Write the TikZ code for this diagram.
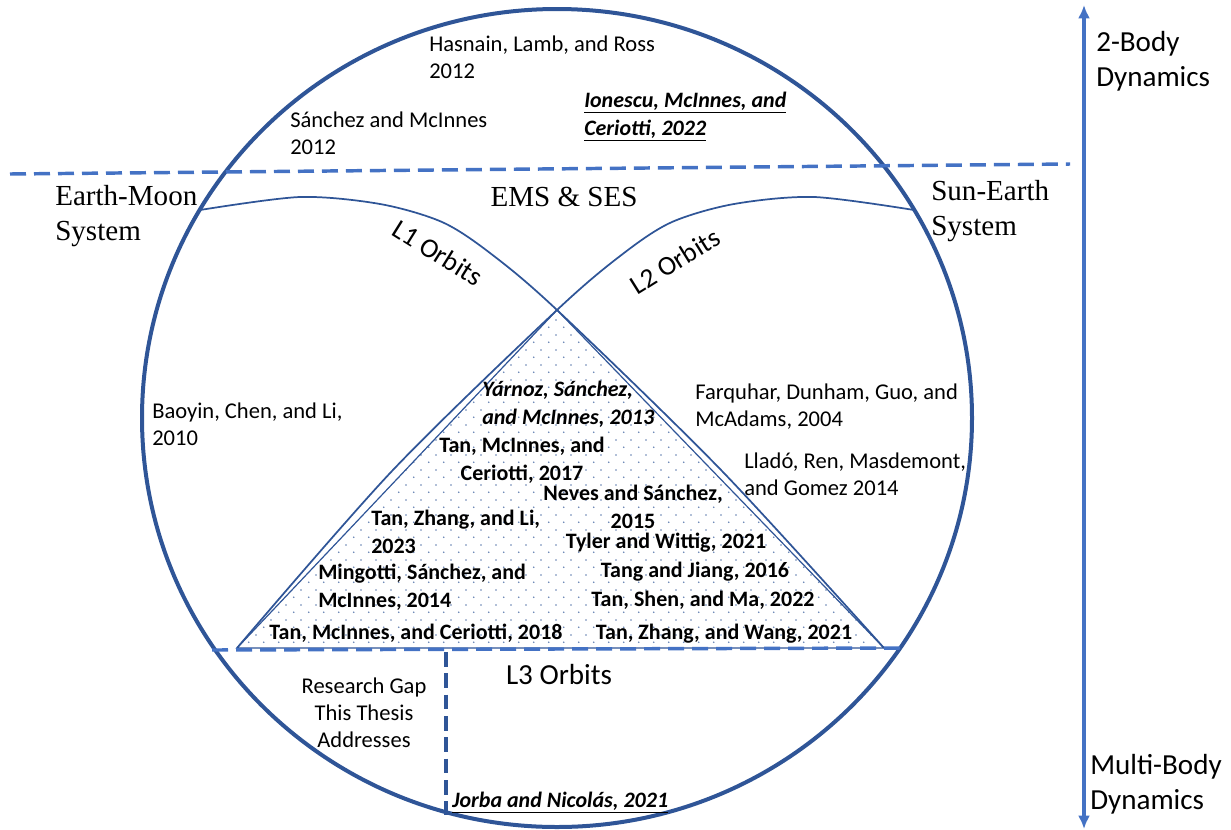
\documentclass[tikz,border=0pt]{standalone}
\usepackage{fontspec}
\setmainfont{Carlito}
\newfontfamily\timesfont{Liberation Serif}
\usetikzlibrary{arrows.meta,patterns.meta}
\definecolor{ringblue}{HTML}{2F5597}
\definecolor{lineblue}{HTML}{4472C4}
\tikzdeclarepattern{
	name=dotgrid,
	type=uncolored,
	bounding box={(0pt,0pt) and (11.5pt,11.5pt)},
	tile size={(11.5pt,11.5pt)},
	code={
		\fill (2.9pt,2.9pt) circle (0.7pt);
		\fill (8.6pt,8.6pt) circle (0.7pt);
	}
}
\newcommand{\refsize}{\fontsize{16.9}{20.3}\selectfont}
\newcommand{\trisize}{\fontsize{16.5}{21}\selectfont}
\newcommand{\bigsize}{\fontsize{21.8}{26.3}\selectfont}
\newcommand{\arcsize}{\fontsize{20.5}{24}\selectfont}
\begin{document}
\begin{tikzpicture}[x=0.75pt, y=-0.75pt,
	ref/.style={font=\refsize, align=left, anchor=west, inner sep=0pt},
	tri/.style={font=\trisize\bfseries, align=center, inner sep=0pt},
	sys/.style={font=\bigsize\timesfont, align=left, anchor=west, inner sep=0pt},
	big/.style={font=\bigsize, align=left, inner sep=0pt},
	orbit/.style={draw=ringblue, line width=1.3pt},
	split/.style={lineblue, line width=2.6pt, dash pattern=on 12pt off 6pt}]
	\useasboundingbox (0,0) rectangle (1231,829);
	\coordinate (apex)	at (557,310);
	\coordinate (baseL)	at (237,648);
	\coordinate (baseR)	at (884,648);
	\coordinate (EM)	at (200,210);
	\coordinate (SE)	at (914,210);
	\coordinate (cutL)	at (10,174);
	\coordinate (cutR)	at (1070,164);
	\coordinate (gapL)	at (212,650);
	\coordinate (gapR)	at (900,648);
	\coordinate (gapT)	at (446,652);
	\coordinate (gapB)	at (446,815);
	\coordinate (Atop)	at (1084,5);
	\coordinate (Abot)	at (1084,829);
	\fill[pattern=dotgrid, pattern color=ringblue!75] (apex) -- (baseR) -- (baseL) -- cycle;
	\draw[ringblue, line width=0.9pt] (apex) -- (baseR) -- (baseL) -- cycle;
	\draw[orbit] plot[smooth] coordinates {(EM) (300,197) (380,204) (442,222) (490,253) (apex) (722,471) (baseR)};
	\draw[orbit] plot[smooth] coordinates {(SE) (814,197) (734,204) (672,222) (624,253) (apex) (392,471) (baseL)};
	\draw[ringblue, line width=3pt] (557,418) ellipse [x radius=311.25pt, y radius=306.75pt];
	\draw[split] (cutL) -- (cutR);
	\draw[split] (gapL) -- (gapR);
	\draw[ringblue, line width=2.5pt, dash pattern=on 11pt off 5pt] (gapT) -- (gapB);
	\draw[lineblue, line width=2.6pt, {Latex[length=10pt,width=9pt]}-{Latex[length=10pt,width=9pt]}] (Abot) -- (Atop);
	\node (hasnain)	at (429,57)	[ref]	{Hasnain, Lamb, and Ross\\2012};
	\node (sanchez)	at (290,133)	[ref]	{Sánchez and McInnes\\2012};
	\node (ionescu)	at (584,117)	[ref, font=\trisize\bfseries\itshape]	{\underline{Ionescu, McInnes, and}\\\underline{Ceriotti, 2022}};
	\node (earthmoon)	at (55,216)	[sys]	{Earth-Moon\\System};
	\node (ems)	at (564,197)	[font=\bigsize\timesfont, inner sep=0pt]	{EMS \& SES};
	\node (sunearth)	at (931,211)	[sys]	{Sun-Earth\\System};
	\node (lone)	at (438,253)	[big, font=\arcsize, rotate=-32]	{L1 Orbits};
	\node (ltwo)	at (675,261)	[big, font=\arcsize, rotate=32]	{L2 Orbits};
	\node (lthree)	at (559,675)	[big]	{L3 Orbits};
	\node (twobody)	at (1096,61)	[big, anchor=west]	{2-Body\\Dynamics};
	\node (multibody)	at (1090,784)	[big, anchor=west]	{Multi-Body\\Dynamics};
	\node (baoyin)	at (152,424)	[ref]	{Baoyin, Chen, and Li,\\2010};
	\node (farquhar)	at (695,407)	[ref]	{Farquhar, Dunham, Guo, and\\McAdams, 2004};
	\node (llado)	at (744,474)	[ref]	{Lladó, Ren, Masdemont,\\and Gomez 2014};
	\node (yarnoz)	at (482,404)	[tri, align=left, anchor=west, font=\trisize\bfseries\itshape]	{Yárnoz, Sánchez,\\and McInnes, 2013};
	\node (tan17)	at (522,460)	[tri]	{Tan, McInnes, and\\Ceriotti, 2017};
	\node (neves)	at (633,507)	[tri]	{Neves and Sánchez,\\2015};
	\node (tan23)	at (371,532)	[tri, align=left, anchor=west]	{Tan, Zhang, and Li,\\2023};
	\node (tyler)	at (666,543)	[tri]	{Tyler and Wittig, 2021};
	\node (mingotti)	at (318,587)	[tri, align=left, anchor=west]	{Mingotti, Sánchez, and\\McInnes, 2014};
	\node (tang)	at (695,572)	[tri]	{Tang and Jiang, 2016};
	\node (shen)	at (703,600)	[tri]	{Tan, Shen, and Ma, 2022};
	\node (tan18)	at (416,633)	[tri]	{Tan, McInnes, and Ceriotti, 2018};
	\node (wang)	at (724,634)	[tri]	{Tan, Zhang, and Wang, 2021};
	\node (gap)	at (364,713)	[ref, align=center, anchor=center]	{Research Gap\\This Thesis\\Addresses};
	\node (jorba)	at (452,803)	[ref, font=\trisize\bfseries\itshape]	{\underline{Jorba and Nicolás, 2021}};
\end{tikzpicture}
\end{document}
